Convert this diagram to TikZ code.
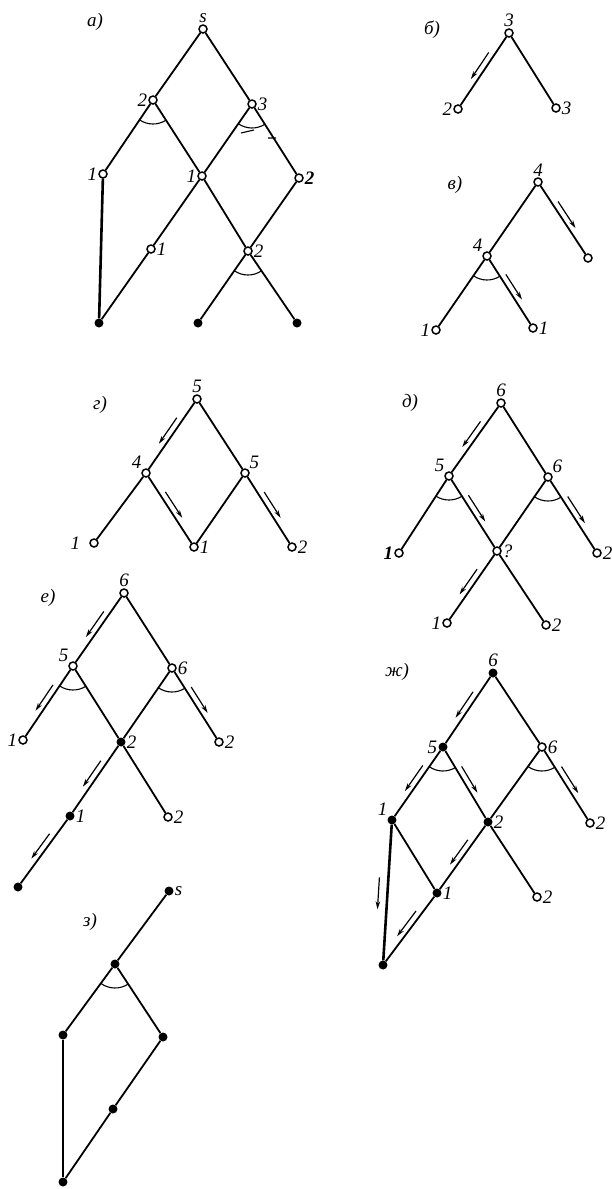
\documentclass[tikz,border=0pt]{standalone}
\usepackage{fontspec}
\setmainfont{Liberation Serif}
\usetikzlibrary{calc,angles,arrows.meta}
% arrow drawn beside an edge: from, to, side (-90 left, 90 right)
\newcommand\flow[3]{\draw[flow] ($(#1)!.3!(#2)!6pt!#3:(#2)$) -- ($(#1)!.65!(#2)!6pt!#3:(#2)$);}
\begin{document}
\begin{tikzpicture}[x=1pt, y=-1pt,
	hollow/.style={circle, draw, fill=white, line width=1.5pt, inner sep=0pt, minimum size=8pt},
	filled/.style={circle, fill, inner sep=0pt, minimum size=9pt},
	lbl/.style={font=\itshape\fontsize{19}{19}\selectfont, inner sep=1pt},
	tag/.style={font=\itshape\fontsize{19}{19}\selectfont},
	link/.style={line width=1.8pt},
	heavy/.style={line width=2.6pt},
	arcmark/.style={draw, line width=1.1pt, angle radius=24pt},
	flow/.style={line width=1.2pt, -{Stealth[length=8pt, width=4.5pt]}},
	every label/.style={lbl}]
	\useasboundingbox (0,0) rectangle (611,1189);
	% a)
	\node[tag] (ta) at (95,22) {а)};
	\node[hollow, label=above:s] (as) at (203,29) {};
	\node[hollow, label=left:2] (a2) at (153,100) {};
	\node[hollow, label=right:3] (a3) at (252,104) {};
	\node[hollow, label=left:1] (a1l) at (103,174) {};
	\node[hollow, label=left:1] (a1c) at (202,176) {};
	\node[hollow, label={[font=\bfseries\itshape\fontsize{19}{19}\selectfont]right:2}] (a2r) at (299,178) {};
	\node[hollow, label=right:1] (a1b) at (151,249) {};
	\node[hollow, label=right:2] (a2b) at (248,251) {};
	\node[filled] (ag1) at (99,323) {};
	\node[filled] (ag2) at (198,323) {};
	\node[filled] (ag3) at (297,323) {};
	\draw[link] (as) -- (a2) (as) -- (a3) (a2) -- (a1l) (a2) -- (a1c) (a3) -- (a1c) (a3) -- (a2r)
		(a1c) -- (a1b) (a1b) -- (ag1) (a1c) -- (a2b) (a2r) -- (a2b) (a2b) -- (ag2) (a2b) -- (ag3);
	\draw[heavy] (a1l) -- (ag1);
	\pic[arcmark] {angle=a1l--a2--a1c};
	\pic[arcmark] {angle=a1c--a3--a2r};
	\pic[arcmark] {angle=ag2--a2b--ag3};
	\draw[line width=1.1pt] ([shift={(-11,29)}]a3.center) -- ++(13,-3) ([shift={(16,34)}]a3.center) -- ++(8,0);
	% b)
	\node[tag] (tb) at (432,30) {б)};
	\node[hollow, label=above:3] (b3) at (509,33) {};
	\node[hollow, label=left:2] (b2) at (458,109) {};
	\node[hollow, label=right:3] (b3r) at (556,108) {};
	\draw[link] (b3) -- (b2) (b3) -- (b3r);
	\flow{b3}{b2}{-90}
	% v)
	\node[tag] (tv) at (455,185) {в)};
	\node[hollow, label=above:4] (v4) at (538,182) {};
	\node[hollow, label=above left:4] (v4m) at (487,256) {};
	\node[hollow] (vr) at (588,258) {};
	\node[hollow, label=left:1] (v1l) at (436,330) {};
	\node[hollow, label=right:1] (v1r) at (533,328) {};
	\draw[link] (v4) -- (v4m) (v4) -- (vr) (v4m) -- (v1l) (v4m) -- (v1r);
	\pic[arcmark] {angle=v1l--v4m--v1r};
	\flow{v4}{vr}{90}
	\flow{v4m}{v1r}{90}
	% g)
	\node[tag] (tg) at (100,405) {г)};
	\node[hollow, label=above:5] (g5) at (197,399) {};
	\node[hollow, label=above left:4] (g4) at (146,473) {};
	\node[hollow, label=above right:5] (g5r) at (245,473) {};
	\node[hollow, label={[label distance=8pt]left:1}] (g1l) at (94,543) {};
	\node[hollow, label=right:1] (g1m) at (194,547) {};
	\node[hollow, label=right:2] (g2) at (292,547) {};
	\draw[link] (g5) -- (g4) (g5) -- (g5r) (g4) -- (g1l) (g4) -- (g1m) (g5r) -- (g1m) (g5r) -- (g2);
	\flow{g5}{g4}{-90}
	\flow{g4}{g1m}{90}
	\flow{g5r}{g2}{90}
	% d)
	\node[tag] (td) at (410,403) {д)};
	\node[hollow, label=above:6] (d6) at (501,403) {};
	\node[hollow, label=above left:5] (d5) at (449,476) {};
	\node[hollow, label=above right:6] (d6r) at (548,477) {};
	\node[hollow, label={[font=\bfseries\itshape\fontsize{19}{19}\selectfont]left:1}] (d1l) at (399,553) {};
	\node[hollow, label=right:?] (dm) at (497,551) {};
	\node[hollow, label=right:2] (d2r) at (597,553) {};
	\node[hollow, label=left:1] (d1b) at (447,623) {};
	\node[hollow, label=right:2] (d2b) at (546,625) {};
	\draw[link] (d6) -- (d5) (d6) -- (d6r) (d5) -- (d1l) (d5) -- (dm) (d6r) -- (dm) (d6r) -- (d2r)
		(dm) -- (d1b) (dm) -- (d2b);
	\pic[arcmark] {angle=d1l--d5--dm};
	\pic[arcmark] {angle=dm--d6r--d2r};
	\flow{d6}{d5}{-90}
	\flow{d5}{dm}{90}
	\flow{d6r}{d2r}{90}
	\flow{dm}{d1b}{-90}
	% e)
	\node[tag] (te) at (48,598) {е)};
	\node[hollow, label=above:6] (e6) at (124,593) {};
	\node[hollow, label=above left:5] (e5) at (73,666) {};
	\node[hollow, label=right:6] (e6r) at (172,668) {};
	\node[hollow, label=left:1] (e1l) at (23,740) {};
	\node[filled, label=right:2] (e2) at (121,742) {};
	\node[hollow, label=right:2] (e2r) at (219,742) {};
	\node[filled, label=right:1] (e1) at (70,816) {};
	\node[hollow, label=right:2] (e2b) at (168,817) {};
	\node[filled] (eg) at (18,887) {};
	\draw[link] (e6) -- (e5) (e6) -- (e6r) (e5) -- (e1l) (e5) -- (e2) (e6r) -- (e2) (e6r) -- (e2r)
		(e2) -- (e1) (e2) -- (e2b) (e1) -- (eg);
	\pic[arcmark] {angle=e1l--e5--e2};
	\pic[arcmark] {angle=e2--e6r--e2r};
	\flow{e6}{e5}{-90}
	\flow{e5}{e1l}{-90}
	\flow{e6r}{e2r}{90}
	\flow{e2}{e1}{-90}
	\flow{e1}{eg}{-90}
	% zh)
	\node[tag] (tz) at (397,672) {ж)};
	\node[filled, label=above:6] (z6) at (493,673) {};
	\node[filled, label=left:5] (z5) at (443,747) {};
	\node[hollow, label=right:6] (z6r) at (542,747) {};
	\node[filled, label=above left:1] (z1) at (392,820) {};
	\node[filled, label=right:2] (z2) at (488,822) {};
	\node[hollow, label=right:2] (z2r) at (590,823) {};
	\node[filled, label=right:1] (z1b) at (437,893) {};
	\node[hollow, label=right:2] (z2b) at (537,897) {};
	\node[filled] (zg) at (383,965) {};
	\draw[link] (z6) -- (z5) (z6) -- (z6r) (z5) -- (z1) (z5) -- (z2) (z6r) -- (z2) (z6r) -- (z2r)
		(z1) -- (z1b) (z2) -- (z1b) (z2) -- (z2b) (z1b) -- (zg);
	\draw[heavy] (z1) -- (zg);
	\pic[arcmark] {angle=z1--z5--z2};
	\pic[arcmark] {angle=z2--z6r--z2r};
	\flow{z6}{z5}{-90}
	\flow{z5}{z1}{-90}
	\flow{z5}{z2}{90}
	\flow{z6r}{z2r}{90}
	\flow{z2}{z1b}{-90}
	\flow{z1b}{zg}{-90}
	\draw[flow] ($(z1)!.4!(zg)!9pt!-90:(zg)$) -- ($(z1)!.62!(zg)!9pt!-90:(zg)$);
	% z)
	\node[tag] (th) at (90,922) {з)};
	\node[filled, label=right:s] (hs) at (169,891) {};
	\node[filled] (ht) at (115,964) {};
	\node[filled] (hl) at (63,1035) {};
	\node[filled] (hr) at (163,1037) {};
	\node[filled] (hm) at (113,1109) {};
	\node[filled] (hg) at (63,1182) {};
	\draw[link] (hs) -- (ht) (ht) -- (hl) (ht) -- (hr) (hr) -- (hm) (hm) -- (hg);
	\draw[heavy] (hl) -- (hg);
	\pic[arcmark] {angle=hl--ht--hr};
\end{tikzpicture}
\end{document}
